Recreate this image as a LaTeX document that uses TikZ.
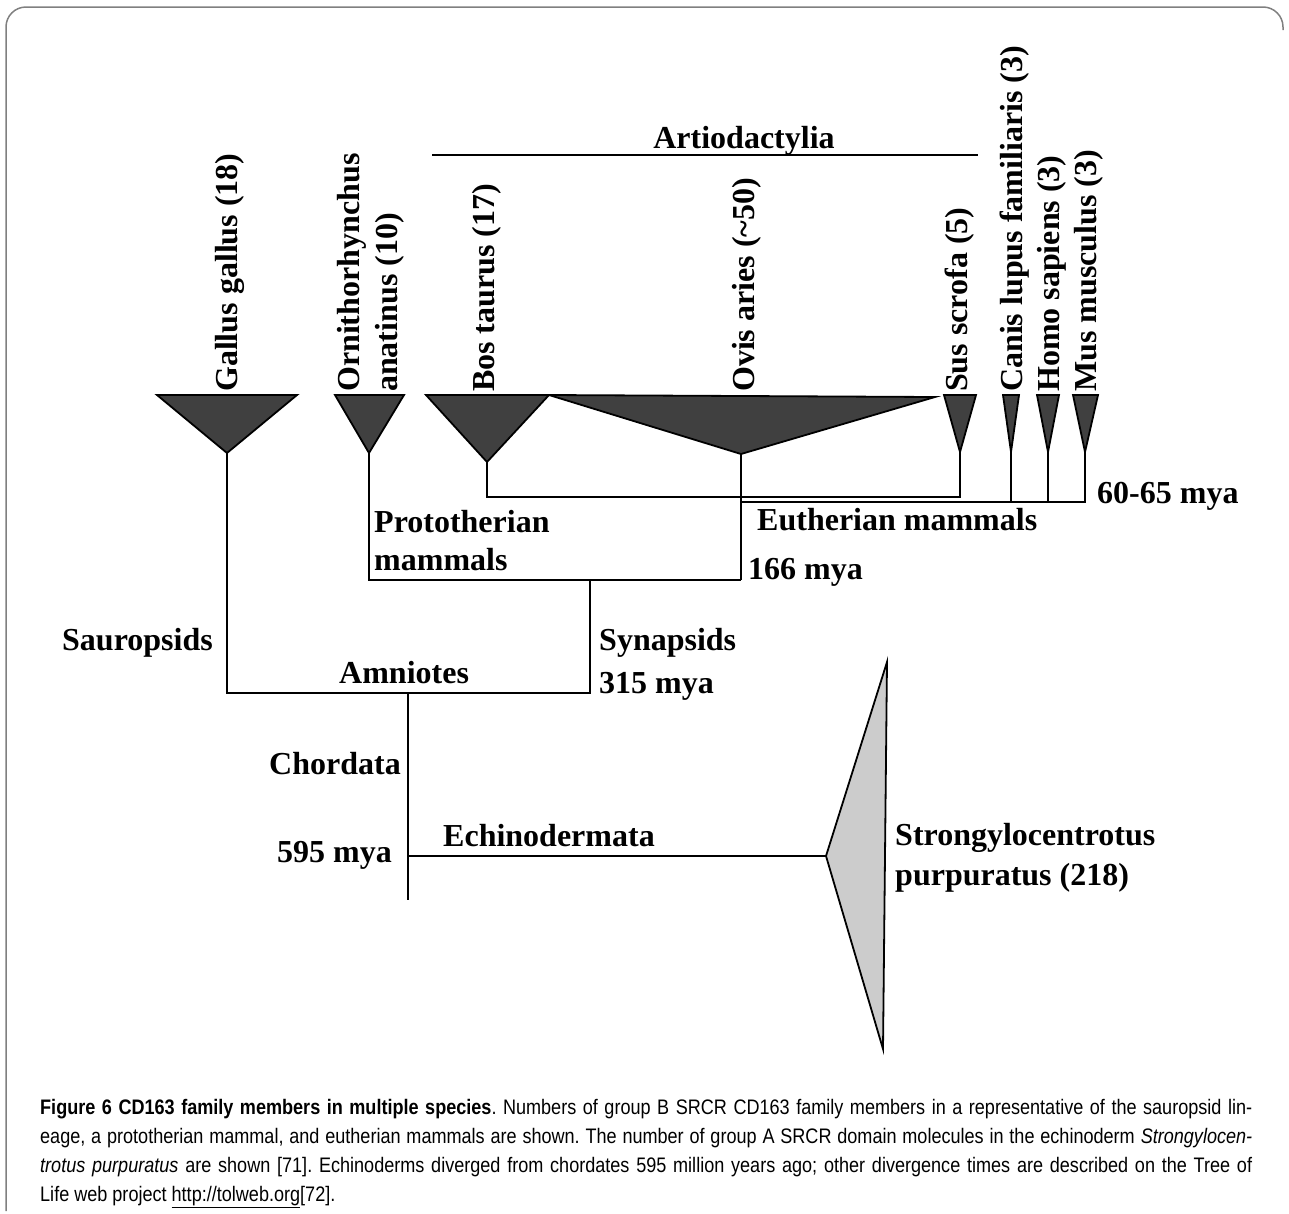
\documentclass[tikz,border=0pt]{standalone}
\usepackage{fontspec}
\setmainfont{Liberation Serif}
\newfontfamily\capfont[FakeStretch=0.86]{Liberation Sans}
\begin{document}
\begin{tikzpicture}[x=1pt,y=-1pt]
	\tikzstyle{taxon}=[font=\bfseries\fontsize{32}{36}\selectfont,inner sep=0pt]
	\tikzstyle{species}=[taxon,rotate=90,anchor=base west]
	\tikzstyle{clade}=[draw=black,line width=1.8pt,fill=black!75,line join=miter]
	\tikzstyle{branch}=[draw,line width=2.6pt]
	\useasboundingbox (0,0) rectangle (1289,1213);
	\draw[black!50,line width=1.5pt,rounded corners=20pt] (6,1211) -- (6,7) -- (1283,7) -- (1283,30);
	\begin{scope}
		% collapsed clades
		\coordinate (gal) at (227,453); \coordinate (orn) at (369,453); \coordinate (bos) at (487,462);
		\coordinate (ovi) at (741,454); \coordinate (sus) at (960,452); \coordinate (can) at (1011,452);
		\coordinate (hom) at (1048,452); \coordinate (mus) at (1085,452); \coordinate (str) at (826,856);
		\path[clade] (157,395) -- (297,395) -- (gal) -- cycle;
		\path[clade] (335,395) -- (404,395) -- (orn) -- cycle;
		\path[clade] (426,395) -- (549,395) -- (bos) -- cycle;
		\path[clade] (549,395) -- (935,397) -- (ovi) -- cycle;
		\path[clade] (944,395) -- (976,395) -- (sus) -- cycle;
		\path[clade] (1003,395) -- (1019,395) -- (can) -- cycle;
		\path[clade] (1037,395) -- (1059,395) -- (hom) -- cycle;
		\path[clade] (1073,395) -- (1098,395) -- (mus) -- cycle;
		\path[clade,fill=black!20] (887,662) -- (883,1049) -- (str) -- cycle;
		% junctions
		\coordinate (art) at (741,502); \coordinate (eut) at (741,580); \coordinate (pro) at (590,580);
		\coordinate (amn) at (408,693); \coordinate (cho) at (408,856); \coordinate (root) at (408,900);
		\path[branch] (bos) -- (487,497) -- (960,497) -- (sus);
		\path[branch] (ovi) -- (art);
		\path[branch] (eut) -- (art) -- (1085,502) -- (mus);
		\path[branch] (can) -- (1011,502);
		\path[branch] (hom) -- (1048,502);
		\path[branch] (orn) |- (eut);
		\path[branch] (gal) |- (590,693) -- (pro);
		\path[branch] (amn) -- (root);
		\path[branch] (cho) -- (str);
		\coordinate (a1) at (432,155); \coordinate (a2) at (978,155);
		\path[branch] (a1) -- (a2);
	\end{scope}
	\node[taxon,anchor=base] (artio) at (744,148) {Artiodactylia};
	\node[species] (l-gal) at (237,392) {Gallus gallus (18)};
	\node[species] (l-orn) at (359,392) {Ornithorhynchus};
	\node[species] (l-ana) at (397,392) {anatinus (10)};
	\node[species] (l-bos) at (494,392) {Bos taurus (17)};
	\node[species] (l-ovi) at (754,392) {Ovis aries (\textasciitilde50)};
	\node[species] (l-sus) at (967,392) {Sus scrofa (5)};
	\node[species] (l-can) at (1022,392) {Canis lupus familiaris (3)};
	\node[species] (l-hom) at (1059,392) {Homo sapiens (3)};
	\node[species] (l-mus) at (1096,392) {Mus musculus (3)};
	\node[taxon,anchor=base west] (l-proto) at (374,532) {Prototherian};
	\node[taxon,anchor=base west] (l-proto2) at (374,570) {mammals};
	\node[taxon,anchor=base west] (l-euth) at (757,530) {Eutherian mammals};
	\node[taxon,anchor=base west] (t-euth) at (748,579) {166 mya};
	\node[taxon,anchor=base west] (t-mam) at (1097,503) {60-65 mya};
	\node[taxon,anchor=base east] (l-saur) at (213,650) {Sauropsids};
	\node[taxon,anchor=base west] (l-amn) at (339,683) {Amniotes};
	\node[taxon,anchor=base west] (l-syn) at (599,650) {Synapsids};
	\node[taxon,anchor=base west] (t-syn) at (599,693) {315 mya};
	\node[taxon,anchor=base east] (l-cho) at (401,774) {Chordata};
	\node[taxon,anchor=base east] (t-cho) at (392,862) {595 mya};
	\node[taxon,anchor=base west] (l-ech) at (443,846) {Echinodermata};
	\node[taxon,anchor=base west] (l-str) at (895,845) {Strongylocentrotus};
	\node[taxon,anchor=base west] (l-str2) at (895,885) {purpuratus (218)};
	\node[anchor=north west,inner sep=0pt,text width=1212pt,align=justify,
		font=\capfont\fontsize{21}{29}\selectfont] (caption) at (40,1099)
		{\frenchspacing\hyphenpenalty=10000\textbf{Figure 6 CD163 family members in multiple species}. Numbers of group B SRCR CD163 family members in a representative of the sauropsid lin-\linebreak
		eage, a prototherian mammal, and eutherian mammals are shown. The number of group A SRCR domain molecules in the echinoderm \textit{Strongylocen-}\linebreak
		\textit{trotus purpuratus} are shown [71]. Echinoderms diverged from chordates 595 million years ago; other divergence times are described on the Tree of\linebreak
		Life web project \underline{http://tolweb.org}[72].};
\end{tikzpicture}
\end{document}
